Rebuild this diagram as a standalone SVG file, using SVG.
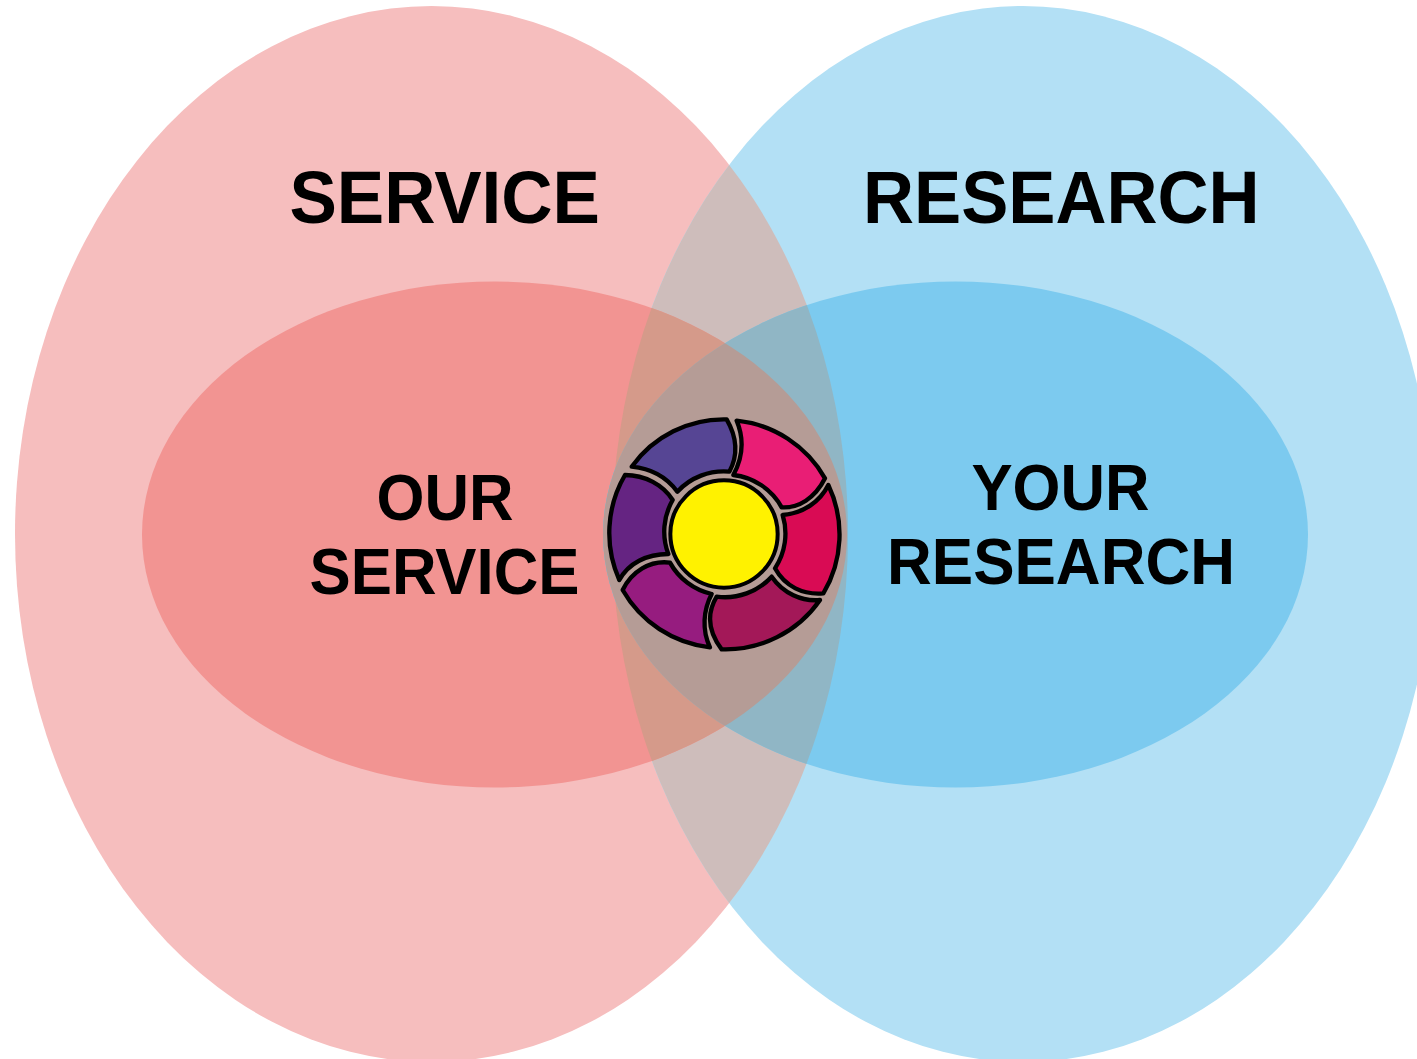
<svg xmlns="http://www.w3.org/2000/svg" width="1417" height="1059" viewBox="0 0 1417 1059">
<style>
text{font-family:"Liberation Sans",Arial,sans-serif;font-weight:700;fill:#000}
.big{font-size:74px}
.small{font-size:64.5px}
.seg{stroke:#000;stroke-width:13;stroke-linejoin:round}
</style>
<defs>
<clipPath id="cBL"><ellipse cx="431.5" cy="534" rx="416.5" ry="528"/></clipPath>
<clipPath id="cBR"><ellipse cx="1023" cy="534" rx="411" ry="528"/></clipPath>
<clipPath id="cIL"><ellipse cx="494.5" cy="534.5" rx="352.5" ry="253"/></clipPath>
<clipPath id="cIR"><ellipse cx="955.5" cy="534.5" rx="352.5" ry="253"/></clipPath>
</defs>
<rect width="1417" height="1059" fill="#fff"/>
<g id="venn">
<ellipse id="service" cx="431.5" cy="534" rx="416.5" ry="528" fill="#f6bebe"/>
<ellipse id="research" cx="1023" cy="534" rx="411" ry="528" fill="#b3e0f5"/>
<g clip-path="url(#cBL)"><ellipse cx="1023" cy="534" rx="411" ry="528" fill="#cebdbb"/></g>
<ellipse id="our-service" cx="494.5" cy="534.5" rx="352.5" ry="253" fill="#f29492"/>
<ellipse id="your-research" cx="955.5" cy="534.5" rx="352.5" ry="253" fill="#7ccaef"/>
<g clip-path="url(#cBR)"><ellipse cx="494.5" cy="534.5" rx="352.5" ry="253" fill="#d59a8a"/></g>
<g clip-path="url(#cBL)"><ellipse cx="955.5" cy="534.5" rx="352.5" ry="253" fill="#90b6c5"/></g>
<g clip-path="url(#cIL)"><ellipse cx="955.5" cy="534.5" rx="352.5" ry="253" fill="#b59c96"/></g>
</g>
<g id="wheel" transform="translate(590 400) scale(.33333)">
<path class="seg" fill="#564594" d="M125 200A340 340 0 0 1 410 58C440 110 445 165 418 215A190 190 0 0 0 262 275C225 225 180 205 125 200Z"/>
<path class="seg" fill="#e91e75" d="M440 62A345 345 0 0 1 705 235C675 295 625 325 575 322A190 190 0 0 0 430 225C460 170 462 115 440 62Z"/>
<path class="seg" fill="#d90b54" d="M715 255A345 345 0 0 1 700 580C640 585 585 560 555 505A190 190 0 0 0 578 345C640 340 690 305 715 255Z"/>
<path class="seg" fill="#a31858" d="M690 600A345 345 0 0 1 395 748C355 695 350 640 380 590A190 190 0 0 0 545 530C580 580 635 605 690 600Z"/>
<path class="seg" fill="#961c7f" d="M98 570A345 345 0 0 0 360 742C335 690 340 630 365 582A190 190 0 0 1 240 488C180 480 125 515 98 570Z"/>
<path class="seg" fill="#652482" d="M88 540A345 345 0 0 1 105 225C165 225 220 255 248 300A190 190 0 0 0 235 462C170 462 115 490 88 540Z"/>
<circle id="hub" cx="402" cy="402" r="161" fill="#fff200" stroke="#000" stroke-width="12"/>
</g>
<g id="labels">
<text class="big" x="289.5" y="223" textLength="310.5" lengthAdjust="spacingAndGlyphs">SERVICE</text>
<text class="big" x="863" y="223" textLength="396.5" lengthAdjust="spacingAndGlyphs">RESEARCH</text>
<text class="small" x="376.5" y="519.5" textLength="137" lengthAdjust="spacingAndGlyphs">OUR</text>
<text class="small" x="309.5" y="594" textLength="270" lengthAdjust="spacingAndGlyphs">SERVICE</text>
<text class="small" x="971.5" y="509.5" textLength="178" lengthAdjust="spacingAndGlyphs">YOUR</text>
<text class="small" x="887" y="584" textLength="348" lengthAdjust="spacingAndGlyphs">RESEARCH</text>
</g>
</svg>
